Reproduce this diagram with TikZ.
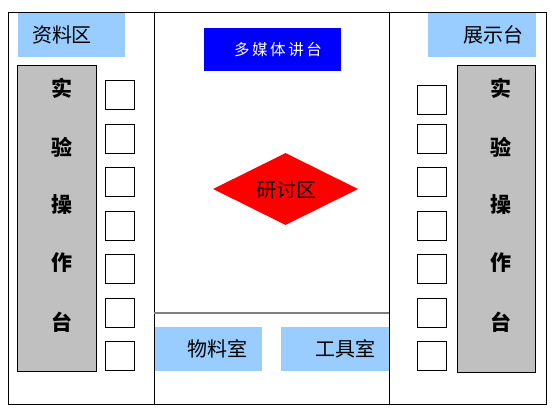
\documentclass[tikz,border=0pt]{standalone}
\usepackage{fontspec}
\setmainfont{Noto Sans CJK SC}
\usetikzlibrary{shapes.geometric}
\definecolor{lightblue}{HTML}{99CCFF}
\definecolor{bench}{HTML}{C0C0C0}
\definecolor{stage}{HTML}{0000FF}
\definecolor{linegray}{HTML}{808080}
\begin{document}
\begin{tikzpicture}[x=1pt,y=-1pt,
  zone/.style={fill=lightblue, draw=none, inner sep=0, anchor=north west, minimum width=#1, minimum height=44pt},
  benchbox/.style={fill=bench, draw=black, line width=0.8pt, inner sep=0, anchor=north west, minimum width=79pt, minimum height=306pt},
  cell/.style={draw=black, line width=0.8pt, fill=white, inner sep=0, anchor=north west, minimum width=29pt, minimum height=29pt},
  lbl/.style={inner sep=0, font=\fontsize{20}{20}\selectfont},
  col/.style={inner sep=0, font=\fontsize{21}{21}\selectfont\bfseries},
  frame/.style={draw=black, line width=0.8pt}]
\useasboundingbox (0,0) rectangle (558,418);
% frame
\draw[frame] (8,12) rectangle (546,404);
\draw[frame] (154,12) -- (154,404);
\draw[frame] (389,12) -- (389,404);
\draw[draw=linegray, line width=2pt] (154,313) -- (389,313);
% top labels
\node[zone=107pt] (ziliao) at (18,13) {};
\node[lbl] (ziliaot) at (62,35) {资料区};
\node[zone=108pt] (zhanshi) at (428,13) {};
\node[lbl] (zhanshit) at (493,35) {展示台};
% multimedia podium
\node[fill=stage, inner sep=0, anchor=north west, minimum width=137pt, minimum height=43pt] (podium) at (204,28) {};
\node[inner sep=0, text=white, font=\fontsize{15.5}{15.5}\selectfont] (podiumt) at (278,50) {多\,媒\,体\,讲\,台};
% discussion area
\node[diamond, fill=red, draw=none, inner sep=0, minimum width=145pt, minimum height=72pt] (disc) at (285.5,189) {};
\node[lbl] (disct) at (286,190) {研讨区};
% bottom rooms
\node[zone=107pt] (wuliao) at (155,327) {};
\node[lbl] (wuliaot) at (217,349) {物料室};
\node[zone=108pt] (gongju) at (281,327) {};
\node[lbl] (gongjut) at (345,349) {工具室};
% benches
\node[benchbox] (benchL) at (17,65) {};
\node[benchbox, minimum width=78pt, minimum height=307pt] (benchR) at (457,65) {};
\foreach \c/\y [count=\i] in {实/88,验/147,操/205,作/263,台/322}{
  \node[col] (bl\i) at (62,\y) {\c};
  \node[col] (br\i) at (501,\y) {\c};
}
% cells
\foreach \y [count=\i] in {80,124,167,211,254,298,341}{
  \node[cell] (cl\i) at (105,\y) {};
}
\foreach \y [count=\i] in {85,124,167,211,254,298,341}{
  \node[cell] (cr\i) at (417,\y) {};
}
\end{tikzpicture}
\end{document}
